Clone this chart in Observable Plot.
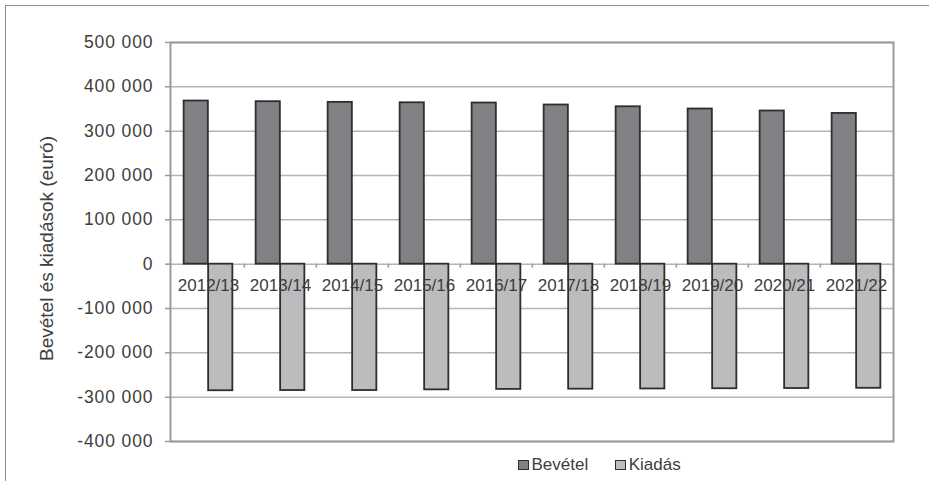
<!DOCTYPE html>
<html lang="hu">
<head>
<meta charset="utf-8">
<script src="https://cdn.jsdelivr.net/npm/d3@7"></script>
<script src="https://cdn.jsdelivr.net/npm/@observablehq/plot@0.6"></script>
<style>
  html, body { margin: 0; padding: 0; background: #ffffff; }
  #wrap { position: relative; width: 929px; height: 481px; overflow: hidden;
          font-family: "Liberation Sans", Arial, sans-serif; color: #3d3d3d; }
  #edge { position: absolute; left: 5px; top: 5px; width: 1000px; height: 600px;
          border-left: 1.5px solid #8c8c8c; border-top: 1.5px solid #8c8c8c; }
  #chart { position: absolute; left: 0; top: 0; }
  #chart g[aria-label="y-axis tick label"] text { letter-spacing: 0.9px; }
  #legend { position: absolute; left: 518px; top: 454px; height: 22px;
            display: flex; align-items: center; font-size: 17px; }
  .item { display: flex; align-items: center; }
  .item + .item { margin-left: 27px; }
  .sw { display: inline-block; width: 8.5px; height: 7.5px; border: 1.6px solid #2e2e2e;
        margin-right: 3px; }
</style>
</head>
<body>
<div id="wrap">
  <div id="edge"></div>
  <div id="chart"></div>
  <div id="legend"></div>
</div>
<script>
// School years shown on the category axis
const categories = ["2012/13", "2013/14", "2014/15", "2015/16", "2016/17",
                    "2017/18", "2018/19", "2019/20", "2020/21", "2021/22"];
// Revenue (Bevétel) per year, euro
const revenue = [368000, 366500, 365000, 364000, 363500, 359000, 355000, 350000, 345500, 340000];
// Expenditure (Kiadás) per year, euro (negative)
const spending = [-285500, -285000, -285000, -283500, -282500, -282000, -281500, -281000, -280500, -280000];
// Value axis ticks
const yTicks = [-400000, -300000, -200000, -100000, 0, 100000, 200000, 300000, 400000, 500000];
const seriesNames = ["Bevétel", "Kiadás"];
const yTitle = "Bevétel és kiadások (euró)";

const colors = { Bevétel: "#808184", Kiadás: "#bcbcbe" };
const textColor = "#3d3d3d";
const lineColor = "#9a9a9a";
const gridColor = "#b5b5b5";
const barStroke = "#2e2e2e";

const rows = categories.map((year, i) => ({ year, revenue: revenue[i], spending: spending[i] }));

const W = 929, H = 452, ML = 170, MR = 36, MT = 42, MB = 11;
const step = (W - ML - MR) / categories.length;
const barW = step * 0.339;

// Hungarian style grouping: "400 000", "-300 000"
const fmt = d3.formatLocale({ decimal: ",", thousands: "\u00a0", grouping: [3],
                              currency: ["", ""], minus: "-" }).format(",d");

const chart = Plot.plot({
  width: W,
  height: H,
  marginLeft: ML,
  marginRight: MR,
  marginTop: MT,
  marginBottom: MB,
  style: { fontFamily: "'Liberation Sans', Arial, sans-serif", fontSize: "17px",
           color: textColor, background: "transparent" },
  x: { domain: categories, padding: 0, axis: null },
  y: { domain: [-400000, 500000], axis: null },
  marks: [
    Plot.ruleY(yTicks, { stroke: gridColor, strokeWidth: 1.5 }),
    Plot.frame({ stroke: lineColor, strokeWidth: 2 }),
    Plot.axisY({ ticks: yTicks, tickFormat: fmt, tickSize: 5, tickPadding: 12,
                 stroke: lineColor, strokeWidth: 1.5, fill: textColor, fontSize: 17.5, label: null }),
    Plot.ruleX(categories.slice(1), { x: d => d, dx: -step / 2, y1: 0, y2: 0,
                                      insetBottom: -4, stroke: lineColor, strokeWidth: 1.5 }),
    Plot.barY(rows, { x: "year", y: "revenue", fill: colors["Bevétel"], stroke: barStroke,
                      strokeWidth: 1.8, insetLeft: step / 2 - barW, insetRight: step / 2 }),
    Plot.barY(rows, { x: "year", y: "spending", fill: colors["Kiadás"], stroke: barStroke,
                      strokeWidth: 1.8, insetLeft: step / 2, insetRight: step / 2 - barW }),
    Plot.text(categories, { x: d => d, y: 0, dy: 21, fill: textColor, fontSize: 17 }),
    Plot.text([yTitle], { frameAnchor: "left", textAnchor: "middle", dx: -124, dy: 6.5,
                          rotate: -90, fill: textColor, fontSize: 19 })
  ]
});
document.getElementById("chart").appendChild(chart);

const legend = document.getElementById("legend");
for (const name of seriesNames) {
  const item = document.createElement("span");
  item.className = "item";
  const sw = document.createElement("span");
  sw.className = "sw";
  sw.style.background = colors[name];
  const label = document.createElement("span");
  label.textContent = name;
  item.append(sw, label);
  legend.appendChild(item);
}
</script>
</body>
</html>
